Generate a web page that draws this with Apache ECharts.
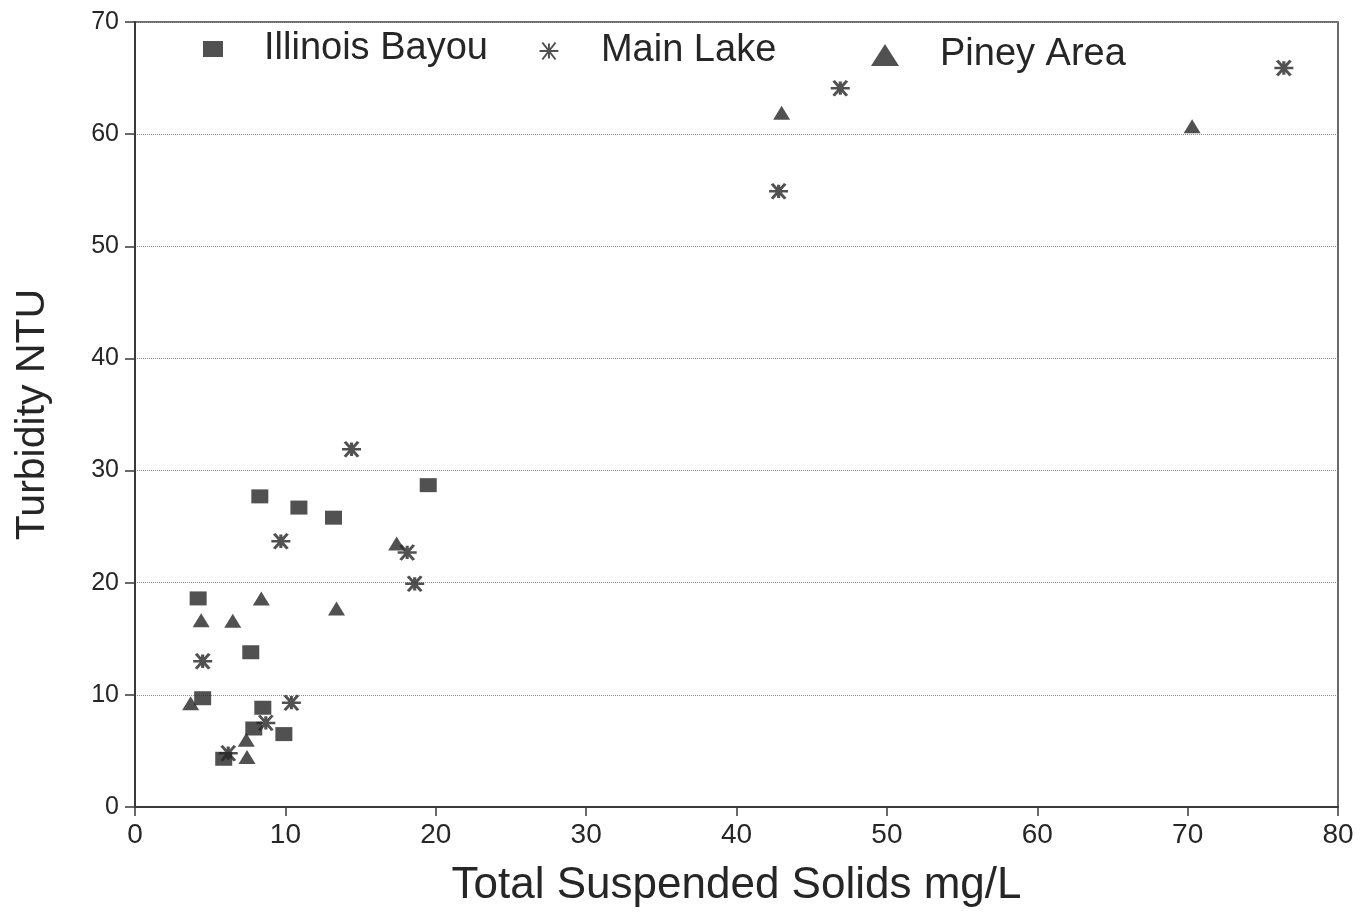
<!DOCTYPE html>
<html>
<head>
<meta charset="utf-8">
<script src="https://cdn.jsdelivr.net/npm/echarts@6/dist/echarts.min.js"></script>
<style>
  html, body { margin: 0; padding: 0; background: #fff; }
  #chart { width: 1361px; height: 919px; }
</style>
</head>
<body>
<div id="chart"></div>
<script>
// Total suspended solids (mg/L) and turbidity (NTU) by sampling area
const illinoisTSS = [4.2, 8.3, 10.9, 13.2, 19.5, 7.7, 4.5, 8.5, 7.9, 9.9, 5.9];
const illinoisNTU = [18.6, 27.7, 26.7, 25.8, 28.7, 13.8, 9.7, 8.85, 7.0, 6.5, 4.3];

const mainLakeTSS = [14.4, 9.7, 18.1, 18.6, 4.5, 10.4, 8.7, 6.2, 42.8, 46.9, 76.4];
const mainLakeNTU = [31.9, 23.7, 22.7, 19.9, 13.0, 9.3, 7.5, 4.8, 54.9, 64.1, 65.9];

const pineyTSS = [17.4, 8.4, 13.4, 4.4, 6.5, 3.7, 7.4, 7.45, 43.0, 70.3];
const pineyNTU = [23.5, 18.6, 17.7, 16.65, 16.6, 9.25, 6.0, 4.45, 61.9, 60.7];

const seriesNames = ['Illinois Bayou', 'Main Lake', 'Piney Area'];
const xTicks = [0, 10, 20, 30, 40, 50, 60, 70, 80];
const yTicks = [0, 10, 20, 30, 40, 50, 60, 70];

const ink = '#262626';
const font = 'Liberation Sans, Arial, Helvetica, sans-serif';
const asterisk = 'path://M0,5L10,5M1.5,0.5L8.5,9.5M8.5,0.5L1.5,9.5M5,1L5,9';

function pairs(xs, ys) {
  return xs.map((x, i) => [x, ys[i]]);
}

function legendFor(name, left, top, icon, w, h) {
  return {
    data: [{ name: name, icon: icon }],
    left: left,
    top: top,
    itemWidth: w,
    itemHeight: h,
    selectedMode: false,
    textStyle: {
      fontFamily: font,
      fontSize: 38,
      color: ink,
      padding: [0, 0, 0, 36]
    }
  };
}

const chart = echarts.init(document.getElementById('chart'));
chart.setOption({
  backgroundColor: '#ffffff',
  animation: false,
  grid: {
    left: 135,
    right: 23,
    top: 22,
    bottom: 112,
    show: true,
    borderColor: '#3a3a3a',
    borderWidth: 1.5,
    backgroundColor: 'transparent'
  },
  legend: [
    legendFor(seriesNames[0], 198, 25, 'rect', 20, 16),
    legendFor(seriesNames[1], 532, 27, asterisk, 22, 17),
    legendFor(seriesNames[2], 866, 31, 'triangle', 28, 22)
  ],
  xAxis: {
    type: 'value',
    min: xTicks[0],
    max: xTicks[xTicks.length - 1],
    interval: 10,
    name: 'Total Suspended Solids mg/L',
    nameLocation: 'middle',
    nameGap: 57,
    nameTextStyle: { fontFamily: font, fontSize: 44, color: ink },
    axisLine: { show: true, lineStyle: { color: '#3a3a3a', width: 2 } },
    axisTick: { show: true, inside: false, length: 9, lineStyle: { color: '#3a3a3a', width: 1.5 } },
    axisLabel: { fontFamily: font, fontSize: 28, color: ink, margin: 14 },
    splitLine: { show: false }
  },
  yAxis: {
    type: 'value',
    min: yTicks[0],
    max: yTicks[yTicks.length - 1],
    interval: 10,
    name: 'Turbidity NTU',
    nameLocation: 'middle',
    nameGap: 82,
    nameRotate: 90,
    nameTextStyle: { fontFamily: font, fontSize: 41, color: ink },
    axisLine: { show: true, lineStyle: { color: '#3a3a3a', width: 2 } },
    axisTick: { show: true, inside: false, length: 10, lineStyle: { color: '#3a3a3a', width: 1.5 } },
    axisLabel: { fontFamily: font, fontSize: 25, color: ink, margin: 16 },
    splitLine: { show: true, lineStyle: { color: '#8a8a8a', type: 'dotted', width: 1 } }
  },
  series: [
    {
      name: seriesNames[0],
      type: 'scatter',
      symbol: 'rect',
      symbolSize: [17, 14],
      itemStyle: { color: ink },
      data: pairs(illinoisTSS, illinoisNTU)
    },
    {
      name: seriesNames[1],
      type: 'scatter',
      symbol: asterisk,
      symbolSize: [19, 15],
      itemStyle: { color: 'none', borderColor: ink, borderWidth: 2.8 },
      data: pairs(mainLakeTSS, mainLakeNTU)
    },
    {
      name: seriesNames[2],
      type: 'scatter',
      symbol: 'triangle',
      symbolSize: [17, 14],
      itemStyle: { color: ink },
      data: pairs(pineyTSS, pineyNTU)
    }
  ]
});
</script>
</body>
</html>
